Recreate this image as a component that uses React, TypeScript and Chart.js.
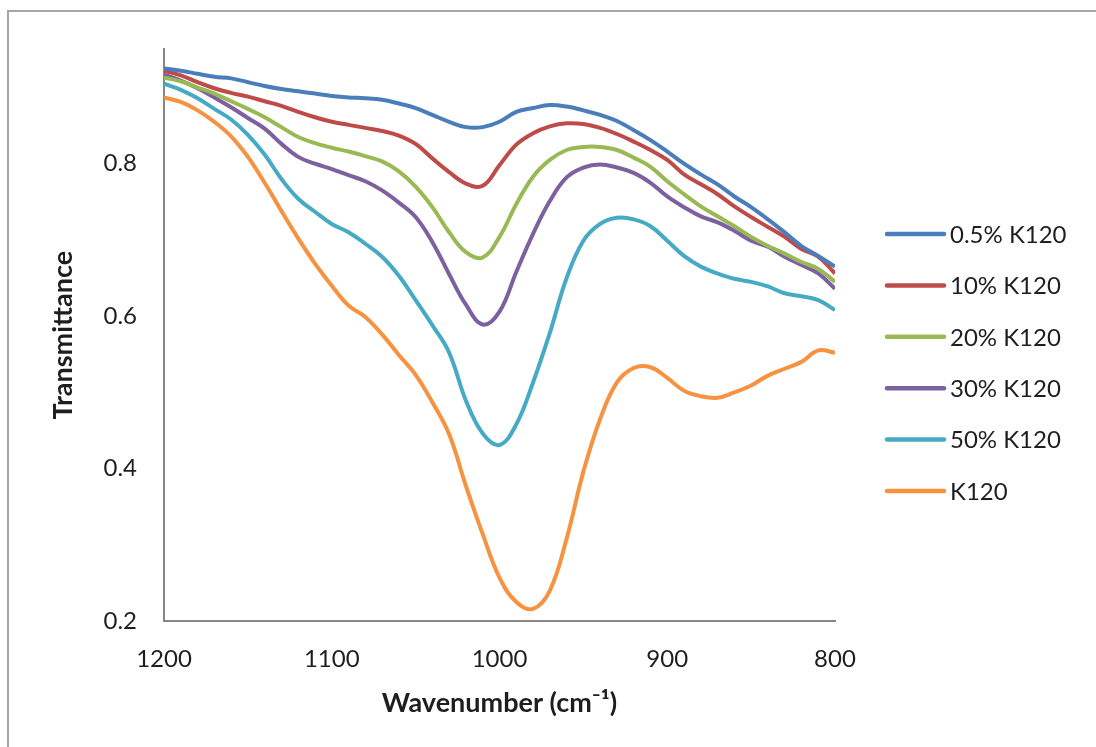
import React, { useEffect, useRef } from "react";
import { Chart, registerables } from "chart.js";

Chart.register(...registerables);

const WAVENUMBERS = [
  1200, 1190, 1180, 1170, 1160, 1150, 1140, 1130, 1120, 1110, 1100, 1090, 1080, 1070,
  1060, 1050, 1040, 1030, 1020, 1010, 1000, 990, 980, 970, 960, 950, 940, 930, 920,
  910, 900, 890, 880, 870, 860, 850, 840, 830, 820, 810, 800,
];

const SERIES_LABELS = ["0.5% K120", "10% K120", "20% K120", "30% K120", "50% K120", "K120"];

const K120_05 = [
  0.925, 0.922, 0.918, 0.914, 0.912, 0.907, 0.902, 0.898, 0.895, 0.892, 0.889, 0.887, 0.886, 0.884,
  0.879, 0.873, 0.864, 0.855, 0.848, 0.848, 0.855, 0.868, 0.873, 0.877, 0.875, 0.870, 0.864, 0.856,
  0.844, 0.831, 0.816, 0.800, 0.786, 0.773, 0.757, 0.743, 0.727, 0.710, 0.692, 0.679, 0.665,
];

const K120_10 = [
  0.922, 0.916, 0.907, 0.899, 0.893, 0.888, 0.882, 0.876, 0.868, 0.861, 0.855, 0.851, 0.847, 0.843,
  0.837, 0.826, 0.807, 0.789, 0.774, 0.771, 0.798, 0.825, 0.840, 0.849, 0.853, 0.852, 0.847, 0.839,
  0.829, 0.818, 0.805, 0.786, 0.773, 0.760, 0.744, 0.730, 0.717, 0.704, 0.688, 0.678, 0.656,
];

const K120_20 = [
  0.913, 0.908, 0.900, 0.892, 0.882, 0.872, 0.861, 0.848, 0.835, 0.827, 0.821, 0.816, 0.810, 0.803,
  0.790, 0.770, 0.743, 0.710, 0.684, 0.677, 0.704, 0.747, 0.783, 0.805, 0.818, 0.822, 0.822, 0.818,
  0.808, 0.796, 0.777, 0.760, 0.744, 0.731, 0.718, 0.704, 0.692, 0.682, 0.671, 0.662, 0.645,
];

const K120_30 = [
  0.917, 0.909, 0.899, 0.887, 0.874, 0.860, 0.846, 0.826, 0.809, 0.800, 0.793, 0.785, 0.777, 0.765,
  0.749, 0.730, 0.697, 0.655, 0.615, 0.589, 0.606, 0.658, 0.708, 0.751, 0.782, 0.795, 0.799, 0.795,
  0.788, 0.775, 0.757, 0.743, 0.731, 0.723, 0.712, 0.699, 0.691, 0.678, 0.667, 0.656, 0.636,
];

const K120_50 = [
  0.905, 0.897, 0.886, 0.872, 0.858, 0.838, 0.812, 0.780, 0.754, 0.737, 0.721, 0.710, 0.695, 0.678,
  0.653, 0.621, 0.588, 0.552, 0.489, 0.446, 0.431, 0.458, 0.513, 0.578, 0.650, 0.699, 0.721, 0.729,
  0.727, 0.718, 0.699, 0.679, 0.665, 0.656, 0.649, 0.645, 0.639, 0.630, 0.626, 0.621, 0.608,
];

const K120_PURE = [
  0.887, 0.881, 0.870, 0.855, 0.836, 0.809, 0.775, 0.738, 0.702, 0.669, 0.640, 0.614, 0.599, 0.576,
  0.549, 0.523, 0.487, 0.445, 0.377, 0.314, 0.257, 0.225, 0.216, 0.240, 0.308, 0.396, 0.465, 0.513,
  0.532, 0.533, 0.519, 0.502, 0.495, 0.493, 0.500, 0.509, 0.522, 0.531, 0.540, 0.555, 0.552,
];

const SERIES_VALUES = [K120_05, K120_10, K120_20, K120_30, K120_50, K120_PURE];
const COLORS = ["#4A7EBB", "#BE4B48", "#98B954", "#7D60A0", "#46AAC5", "#F69240"];

const X_TICKS = [1200, 1100, 1000, 900, 800];
const Y_TICKS = [0.2, 0.4, 0.6, 0.8];

const X_TITLE = "Wavenumber (cm\u207B\u00B9)";
const Y_TITLE = "Transmittance";

const FONT = "Lato, 'Open Sans', sans-serif";
const TEXT_COLOR = "#1e1e1e";
const AXIS_COLOR = "#878787";

export default function App() {
  const ref = useRef<HTMLCanvasElement>(null);

  useEffect(() => {
    if (!ref.current) return;

    const sideLegend = {
      id: "sideLegend",
      afterDraw(chart: any) {
        const ctx = chart.ctx;
        const x1 = 879;
        const x2 = 936;
        const textX = 942;
        const top = 226;
        const step = 51.4;
        ctx.save();
        chart.data.datasets.forEach((ds: any, i: number) => {
          const y = top + i * step;
          ctx.beginPath();
          ctx.lineCap = "round";
          ctx.strokeStyle = ds.borderColor;
          ctx.lineWidth = 4.5;
          ctx.moveTo(x1, y);
          ctx.lineTo(x2, y);
          ctx.stroke();
          ctx.fillStyle = TEXT_COLOR;
          ctx.font = `24px ${FONT}`;
          ctx.textAlign = "left";
          ctx.textBaseline = "middle";
          ctx.fillText(ds.label, textX, y + 1);
        });
        ctx.restore();
      },
    };

    const chart = new Chart(ref.current, {
      type: "line",
      data: {
        datasets: SERIES_VALUES.map((vals, i) => ({
          label: SERIES_LABELS[i],
          data: WAVENUMBERS.map((w, j) => ({ x: w, y: vals[j] })),
          borderColor: COLORS[i],
          backgroundColor: COLORS[i],
          borderWidth: 4,
          pointRadius: 0,
          fill: false,
          tension: 0.4,
        })),
      },
      options: {
        responsive: false,
        animation: false,
        layout: { padding: { left: 0, top: 35, right: 253, bottom: 0 } },
        plugins: {
          legend: { display: false },
          tooltip: { enabled: false },
        },
        scales: {
          x: {
            type: "linear",
            reverse: true,
            min: 800,
            max: 1200,
            afterFit: (s: any) => {
              s.height = 118;
            },
            afterBuildTicks: (s: any) => {
              s.ticks = X_TICKS.map((v) => ({ value: v }));
            },
            grid: { display: false, drawTicks: false },
            border: { display: true, color: AXIS_COLOR, width: 2 },
            ticks: {
              padding: 24,
              color: TEXT_COLOR,
              font: { family: FONT, size: 24 },
              maxRotation: 0,
              callback: (v: any) => String(v),
            },
            title: {
              display: true,
              text: X_TITLE,
              color: TEXT_COLOR,
              font: { family: FONT, size: 27, weight: "bold" },
              padding: { top: 0, bottom: 20 },
            },
          },
          y: {
            type: "linear",
            min: 0.2,
            max: 0.95,
            afterFit: (s: any) => {
              s.width = 156;
            },
            afterBuildTicks: (s: any) => {
              s.ticks = Y_TICKS.map((v) => ({ value: v }));
            },
            grid: { display: false, drawTicks: false },
            border: { display: true, color: AXIS_COLOR, width: 2 },
            ticks: {
              padding: 27,
              color: TEXT_COLOR,
              font: { family: FONT, size: 24 },
              callback: (v: any) => Number(v).toFixed(1),
            },
            title: {
              display: true,
              text: Y_TITLE,
              color: TEXT_COLOR,
              font: { family: FONT, size: 27, weight: "bold" },
              padding: { top: 39, bottom: 0 },
            },
          },
        },
      },
      plugins: [sideLegend],
    });

    return () => chart.destroy();
  }, []);

  return (
    <div style={{ position: "relative", width: 1080, height: 731 }}>
      <div
        style={{
          position: "fixed",
          left: 7,
          top: 10,
          right: 0,
          bottom: 0,
          borderLeft: "2px solid #a6a6a6",
          borderTop: "2px solid #a6a6a6",
          pointerEvents: "none",
        }}
      />
      <canvas
        ref={ref}
        width={1080}
        height={731}
        style={{ display: "block", width: 1080, height: 731, position: "relative" }}
      />
    </div>
  );
}
